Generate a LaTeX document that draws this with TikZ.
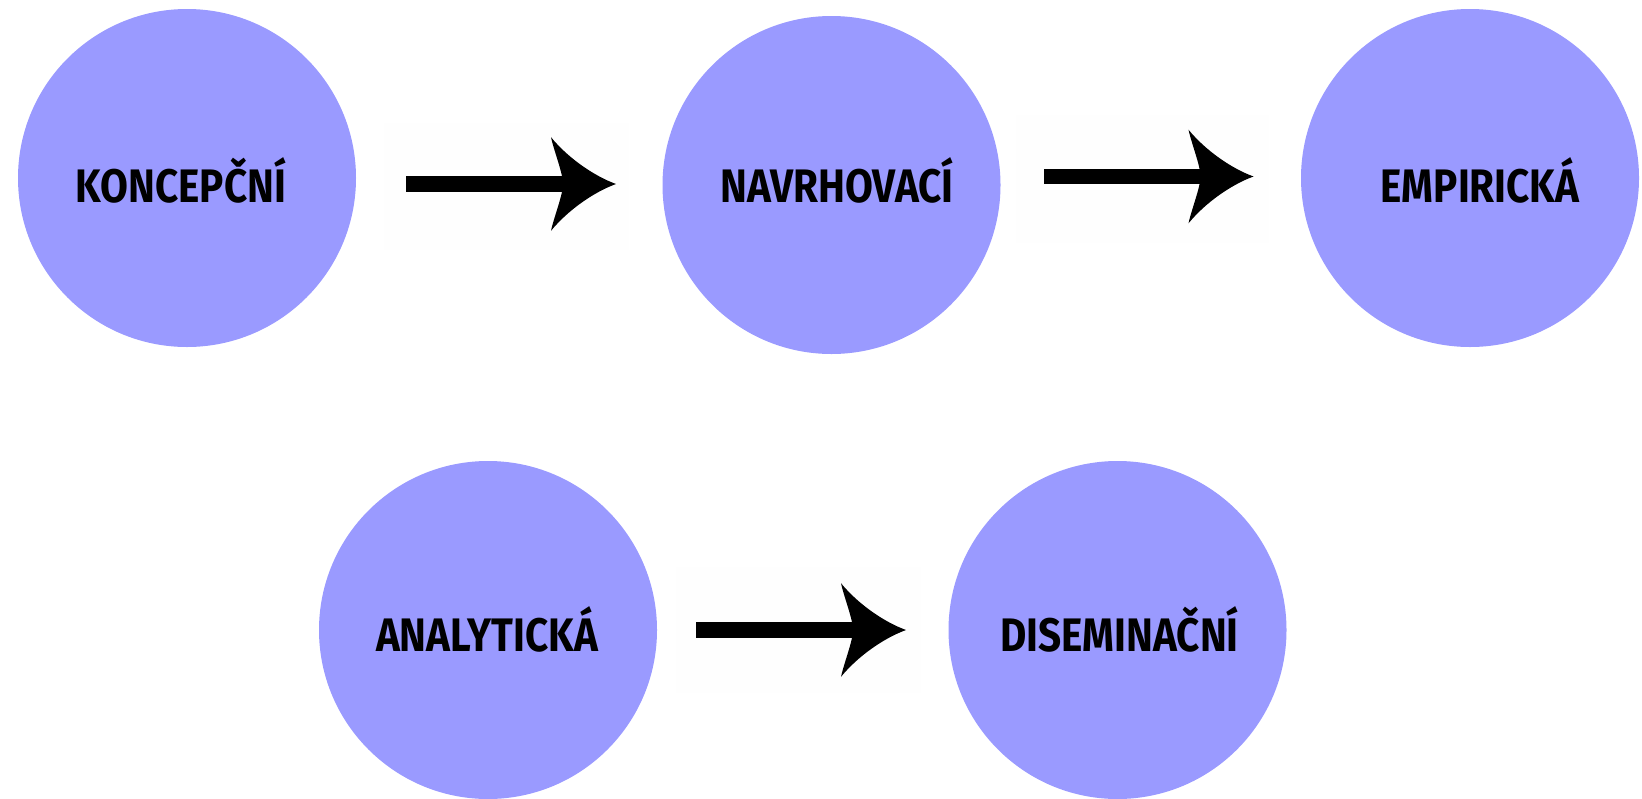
\documentclass[tikz,border=0pt]{standalone}
\usepackage{fontspec}
\setmainfont{Fira Sans}[FakeStretch=0.86]
\usetikzlibrary{arrows.meta}
\definecolor{stagefill}{HTML}{9A9AFF}

% thick arrow head with swept back barbs
\pgfdeclarearrow{
  name = Swept,
  setup code = {
    \pgfarrowssettipend{0pt}
    \pgfarrowssetlineend{-26pt}
    \pgfarrowssetbackend{-32.5pt}
    \pgfarrowssetvisualbackend{-27pt}
  },
  drawing code = {
    \pgfpathmoveto{\pgfpointorigin}
    \pgfpathcurveto{\pgfpoint{-11pt}{4pt}}{\pgfpoint{-24pt}{13pt}}{\pgfpoint{-32.5pt}{23.4pt}}
    \pgfpathcurveto{\pgfpoint{-31.5pt}{18.5pt}}{\pgfpoint{-28pt}{9pt}}{\pgfpoint{-27pt}{3.9pt}}
    \pgfpathlineto{\pgfpoint{-27pt}{-3.9pt}}
    \pgfpathcurveto{\pgfpoint{-28pt}{-9pt}}{\pgfpoint{-31.5pt}{-18.5pt}}{\pgfpoint{-32.5pt}{-23.4pt}}
    \pgfpathcurveto{\pgfpoint{-24pt}{-13pt}}{\pgfpoint{-11pt}{-4pt}}{\pgfpointorigin}
    \pgfpathclose
    \pgfusepathqfill
  }
}

\begin{document}
\begin{tikzpicture}[x=0.5pt,y=-0.5pt]
    \tikzstyle{stage}=[circle,fill=stagefill,minimum size=169pt,inner sep=0pt]
    \tikzstyle{caption}=[anchor=base,inner sep=0pt,font=\bfseries\fontsize{23.5pt}{28pt}\selectfont]
    \tikzstyle{flow}=[line width=7.8pt,-{Swept}]
    \tikzstyle{pad}=[fill=black!0.5,draw=none]
    \useasboundingbox (0,0) rectangle (1642,798);
      % top row
      \node[stage] (k) at (187,178) {};
      \node[stage] (n) at (831.5,185) {};
      \node[stage] (e) at (1470,178) {};
      % bottom row
      \node[stage] (a) at (488,630) {};
      \node[stage] (d) at (1117.5,630) {};
      \node[caption] (kt) at (181,202) {KONCEPČNÍ};
      \node[caption] (nt) at (837,202) {NAVRHOVACÍ};
      \node[caption] (et) at (1480,202) {EMPIRICKÁ};
      \node[caption] (at) at (487,651) {ANALYTICKÁ};
      \node[caption] (dt) at (1119.5,651) {DISEMINAČNÍ};
      \fill[pad] (384,123) rectangle (629,250);
      \fill[pad] (1016,115) rectangle (1269,243);
      \fill[pad] (676,567) rectangle (921,693);
      \coordinate (kn1) at (406,184);
      \coordinate (kn2) at (616,184);
      \coordinate (ne1) at (1044,176.5);
      \coordinate (ne2) at (1253.5,176.5);
      \coordinate (ad1) at (696,630);
      \coordinate (ad2) at (906,630);
      \draw[flow] (kn1) -- (kn2);
      \draw[flow] (ne1) -- (ne2);
      \draw[flow] (ad1) -- (ad2);
  \end{tikzpicture}
\end{document}
